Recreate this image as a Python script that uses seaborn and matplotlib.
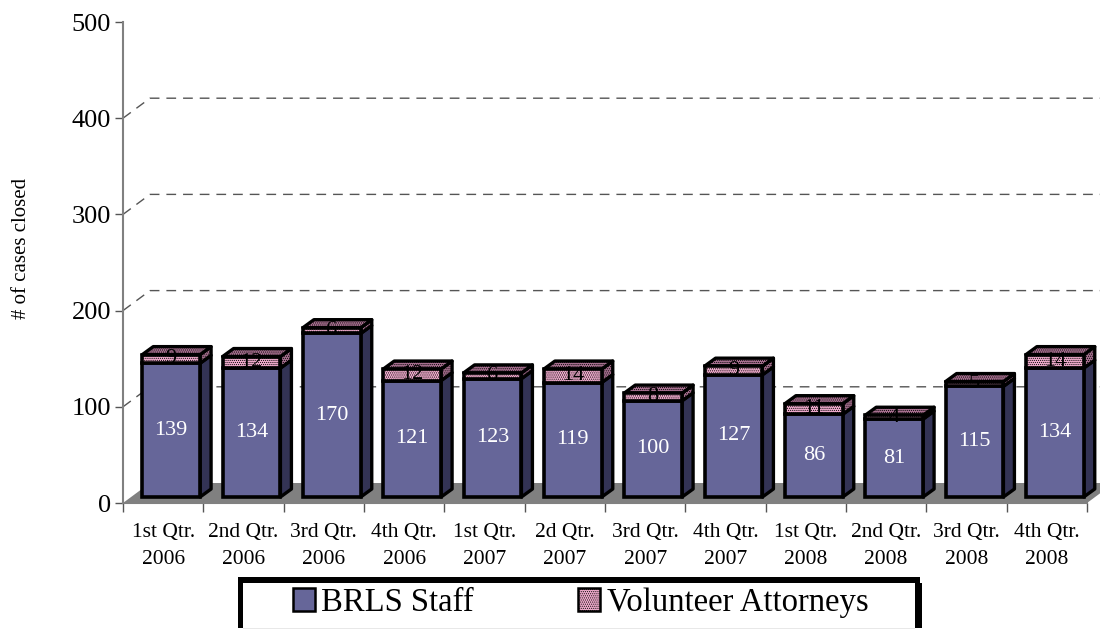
import matplotlib
matplotlib.use('Agg')
import matplotlib.pyplot as plt
import matplotlib.transforms as mtrans
from matplotlib.patches import Patch, Polygon, Rectangle
import numpy as np
import pandas as pd
import seaborn as sns

quarters = ['1st Qtr.\n2006', '2nd Qtr.\n2006', '3rd Qtr.\n2006', '4th Qtr.\n2006',
            '1st Qtr.\n2007', '2d Qtr.\n2007', '3rd Qtr.\n2007', '4th Qtr.\n2007',
            '1st Qtr.\n2008', '2nd Qtr.\n2008', '3rd Qtr.\n2008', '4th Qtr.\n2008']
staff = [139, 134, 170, 121, 123, 119, 100, 127, 86, 81, 115, 134]
volunteers = [9, 12, 6, 12, 6, 14, 8, 9, 11, 4, 5, 14]
y_ticks = [0, 100, 200, 300, 400, 500]

BLUE = '#666699'
BLUE_SIDE = '#333355'
PINK = '#eeaacb'
PINK_DARK = '#a87090'
FLOOR = '#808080'

sns.set_theme(style='white')
plt.rcParams['font.family'] = ['Liberation Serif', 'DejaVu Serif']
plt.rcParams['hatch.linewidth'] = 0.5
plt.rcParams['text.color'] = 'black'

W, H = 1100, 630
fig = plt.figure(figsize=(W / 100, H / 100), dpi=100)
ax = fig.add_axes([123 / W, 1 - 503 / H, 964 / W, 481 / H])
ax.patch.set_alpha(0)

df = pd.DataFrame({'quarter': quarters, 'staff': staff, 'volunteers': volunteers})

# depth offsets in pixels: front face, bar back, wall/floor back
front = mtrans.Affine2D().translate(8, 6)
back = mtrans.Affine2D().translate(19, 14)
wall = mtrans.Affine2D().translate(27, 20)
still = mtrans.Affine2D()
pixels = mtrans.IdentityTransform()
BAR_W = 0.72

sns.barplot(data=df, x='quarter', y='staff', color=BLUE, width=BAR_W, saturation=1,
            edgecolor='black', linewidth=2.6, ax=ax, zorder=4)
sns.barplot(data=df, x='quarter', y='volunteers', bottom=df['staff'], color=PINK, width=BAR_W,
            saturation=1, edgecolor='black', linewidth=2.6, ax=ax, zorder=4, hatch='........')

ax.set_xlim(-0.5, len(quarters) - 0.5)
ax.set_ylim(0, 500)

for p in ax.patches:
    p.set_transform(ax.transData + front)
    p.set_clip_on(False)


# side and top faces, each point shifted in pixels
def face(points, color, hatch=None):
    verts = [(ax.transData + shift).transform((x, y)) for x, y, shift in points]
    ax.add_patch(Polygon(verts, closed=True, transform=pixels, facecolor=color, edgecolor='black',
                         linewidth=2.4, hatch=hatch, zorder=3, clip_on=False, joinstyle='round'))


for i in range(len(quarters)):
    r = i + BAR_W / 2
    l = i - BAR_W / 2
    s = staff[i]
    t = s + volunteers[i]
    face([(r, 0, front), (r, s, front), (r, s, back), (r, 0, back)], BLUE_SIDE)
    face([(r, s, front), (r, t, front), (r, t, back), (r, s, back)], PINK_DARK, '........')
    face([(l, t, front), (r, t, front), (r, t, back), (l, t, back)], PINK_DARK, '........')

# floor and dashed back grid
x0, x1 = ax.get_xlim()
verts = [(ax.transData + still).transform((x0, 0)), (ax.transData + wall).transform((x0, 0)),
         (ax.transData + wall).transform((x1, 0)), (ax.transData + still).transform((x1, 0))]
ax.add_patch(Polygon(verts, closed=True, transform=pixels, facecolor=FLOOR, edgecolor='none',
                     zorder=1, clip_on=False))
for v in y_ticks[1:-1]:
    a = ax.transData.transform((x0, v))
    b = (ax.transData + wall).transform((x0, v))
    c = (ax.transData + wall).transform((x1, v))
    ax.plot([a[0], b[0], c[0]], [a[1], b[1], c[1]], transform=pixels, color='#555555',
            linewidth=1.0, dashes=(7, 5), zorder=1, clip_on=False)

# data labels
for i in range(len(quarters)):
    ax.text(i, staff[i] / 2, str(staff[i]), color='white', fontsize=16, ha='center', va='center',
            transform=ax.transData + front, zorder=6)
    ax.text(i, staff[i] + volunteers[i] / 2, str(volunteers[i]), color='black', fontsize=16,
            ha='center', va='center', transform=ax.transData + front, zorder=6)

sns.despine(ax=ax, top=True, right=True)
for side in ['left', 'bottom']:
    ax.spines[side].set_color('#808080')
    ax.spines[side].set_linewidth(1.5)
    ax.spines[side].set_zorder(2)

ax.set_yticks(y_ticks)
ax.set_xticks(np.arange(len(quarters) + 1) - 0.5, minor=True)
ax.tick_params(axis='x', which='major', length=0, labelsize=15.5, pad=14.5, labelcolor='black')
ax.tick_params(axis='x', which='minor', length=6.5, width=1, color='#555555', bottom=True)
ax.tick_params(axis='y', length=5.8, width=1, color='#555555', left=True, labelsize=19, pad=2.8,
               labelcolor='black')
ax.set_xlabel('')
ax.set_ylabel('')
plt.setp(ax.get_xticklabels(), linespacing=1.58)
fig.text(22 / W, 1 - 248 / H, '# of cases closed', rotation=90, fontsize=15, ha='center', va='center')


# legend box: heavy top and left, shadow on the right, open at the bottom
def box(x_a, y_a, x_b, y_b, color):
    fig.add_artist(Rectangle((x_a / W, 1 - y_b / H), (x_b - x_a) / W, (y_b - y_a) / H,
                             transform=fig.transFigure, facecolor=color, edgecolor='none'))


box(238, 577, 920, 628, 'black')
box(915, 583, 922, 628, 'black')
box(243, 583, 915, 628, 'white')
box(243, 628, 915, 629, '#e8e8e8')

handles = [Patch(facecolor=BLUE, edgecolor='black', linewidth=1.8),
           Patch(facecolor=PINK, edgecolor='black', linewidth=1.8, hatch='........')]
fig.legend(handles, ['BRLS Staff', 'Volunteer Attorneys'], ncol=2, frameon=False, fontsize=23.5,
           loc='center', bbox_to_anchor=(580.5 / W, 1 - 603 / H), handlelength=0.67, handleheight=0.7,
           handletextpad=0.2, columnspacing=3.2, labelcolor='black')

fig.savefig('out.png', dpi=100, facecolor='white')
